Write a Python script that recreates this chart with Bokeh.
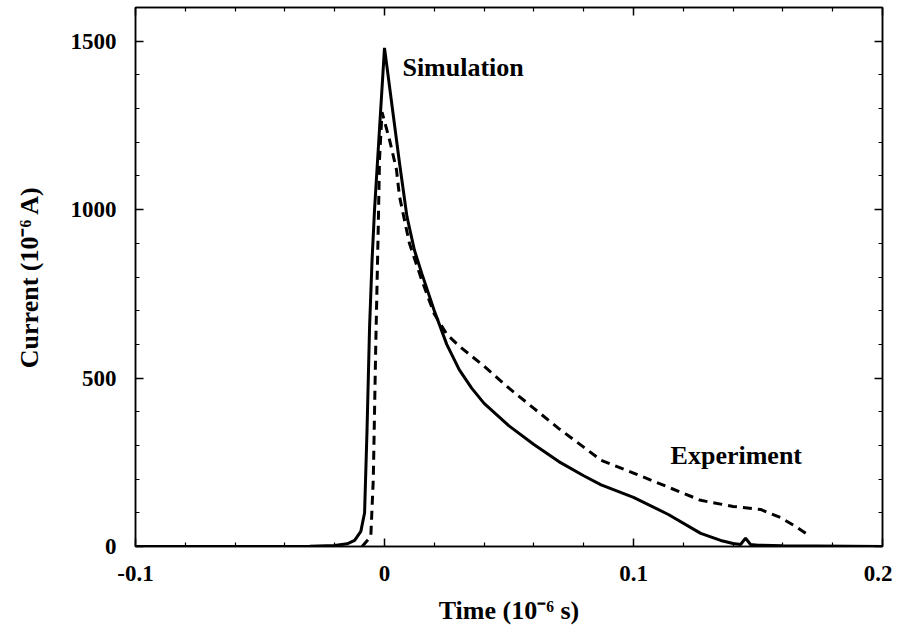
from bokeh.plotting import figure
from bokeh.models import Range1d, FixedTicker, LinearAxis, Label
from bokeh.embed import file_html
from bokeh.resources import INLINE

# Simulation (solid line)
sim_t = [-0.1, -0.05, -0.03, -0.02, -0.015, -0.012, -0.0095, -0.008, -0.007, -0.006,
         -0.005, -0.004, -0.002, 0.0, 0.003, 0.006, 0.009, 0.012, 0.015, 0.02, 0.025,
         0.03, 0.035, 0.04, 0.05, 0.06, 0.07, 0.08, 0.087, 0.1, 0.114, 0.127, 0.135, 0.14,
         0.143, 0.145, 0.147, 0.15, 0.16, 0.2]
sim_i = [0, 0, 1, 3, 8, 18, 45, 100, 350, 650,
         850, 1000, 1240, 1480, 1310, 1140, 980, 880, 810, 700, 600,
         525, 470, 425, 358, 303, 252, 210, 183, 146, 95, 39, 18, 9,
         6, 25, 6, 4, 2, 0]

# Experiment (dashed line)
exp_t = [-0.009, -0.0055, -0.0045, -0.0035, -0.0025, -0.002, -0.001, 0.002, 0.0048,
         0.006, 0.01, 0.015, 0.02, 0.025, 0.03, 0.04, 0.05, 0.06, 0.07, 0.08, 0.087,
         0.1, 0.114, 0.127, 0.14, 0.151, 0.159, 0.165, 0.171]
exp_i = [0, 30, 200, 600, 950, 1150, 1289, 1208, 1119,
         1040, 900, 790, 690, 630, 595, 535, 470, 410, 350, 295, 256,
         218, 176, 137, 119, 110, 86, 60, 30]

x_major = [-0.1, 0.0, 0.1, 0.2]
x_labels = {-0.1: "-0.1", 0.0: "0", 0.1: "0.1", 0.2: "0.2"}
x_minor = [-0.08, -0.06, -0.04, -0.02, 0.02, 0.04, 0.06, 0.08, 0.12, 0.14, 0.16, 0.18]
y_major = [0, 500, 1000, 1500]
y_minor = [100, 200, 300, 400, 600, 700, 800, 900, 1100, 1200, 1300, 1400, 1600]

FONT = "Liberation Serif"

p = figure(frame_width=747, frame_height=539, output_backend="svg", toolbar_location=None,
           x_range=Range1d(-0.1, 0.2), y_range=Range1d(0, 1600),
           min_border_left=135, min_border_right=10, min_border_top=7, min_border_bottom=10)
p.grid.visible = False
p.outline_line_color = "black"
p.outline_line_width = 1.5
p.background_fill_color = "white"
p.border_fill_color = "white"

p.line(sim_t, sim_i, line_color="black", line_width=3)
p.line(exp_t, exp_i, line_color="black", line_width=3, line_dash="9 6")

def style(ax, ticks, minor, labels=True):
    ax.ticker = FixedTicker(ticks=ticks, minor_ticks=minor)
    ax.major_tick_in = 8
    ax.major_tick_out = 0
    ax.minor_tick_in = 4
    ax.minor_tick_out = 0
    ax.major_tick_line_width = 1.5
    ax.minor_tick_line_width = 1.2
    ax.axis_line_width = 1.5
    ax.major_tick_line_color = "black"
    ax.minor_tick_line_color = "black"
    ax.axis_line_color = "black"
    if labels:
        ax.major_label_text_font = FONT
        ax.major_label_text_font_style = "bold"
        ax.major_label_text_font_size = "23px"
        ax.major_label_text_color = "black"
        ax.axis_label_text_font = FONT
        ax.axis_label_text_font_style = "bold"
        ax.axis_label_text_font_size = "26px"
        ax.axis_label_text_color = "black"
    else:
        ax.major_label_text_color = None
        ax.major_label_standoff = 0

xa = p.xaxis[0]
style(xa, x_major, x_minor)
xa.major_label_overrides = x_labels
xa.major_label_standoff = 19
xa.axis_label = "Time (10⁻⁶ s)"
xa.axis_label_standoff = 12

ya = p.yaxis[0]
style(ya, y_major, y_minor)
ya.major_label_standoff = 19
ya.axis_label = "Current (10⁻⁶ A)"
ya.axis_label_standoff = 24

top = LinearAxis()
style(top, x_major, x_minor, labels=False)
p.add_layout(top, "above")
right = LinearAxis()
style(right, y_major, y_minor, labels=False)
p.add_layout(right, "right")

p.add_layout(Label(x=0.0072, y=1422, text="Simulation", text_font=FONT, text_font_style="bold",
                   text_font_size="26px", text_baseline="middle", text_color="black"))
p.add_layout(Label(x=0.1149, y=270, text="Experiment", text_font=FONT, text_font_style="bold",
                   text_font_size="26px", text_baseline="middle", text_color="black"))

open("out.html", "w").write(file_html(p, INLINE))
